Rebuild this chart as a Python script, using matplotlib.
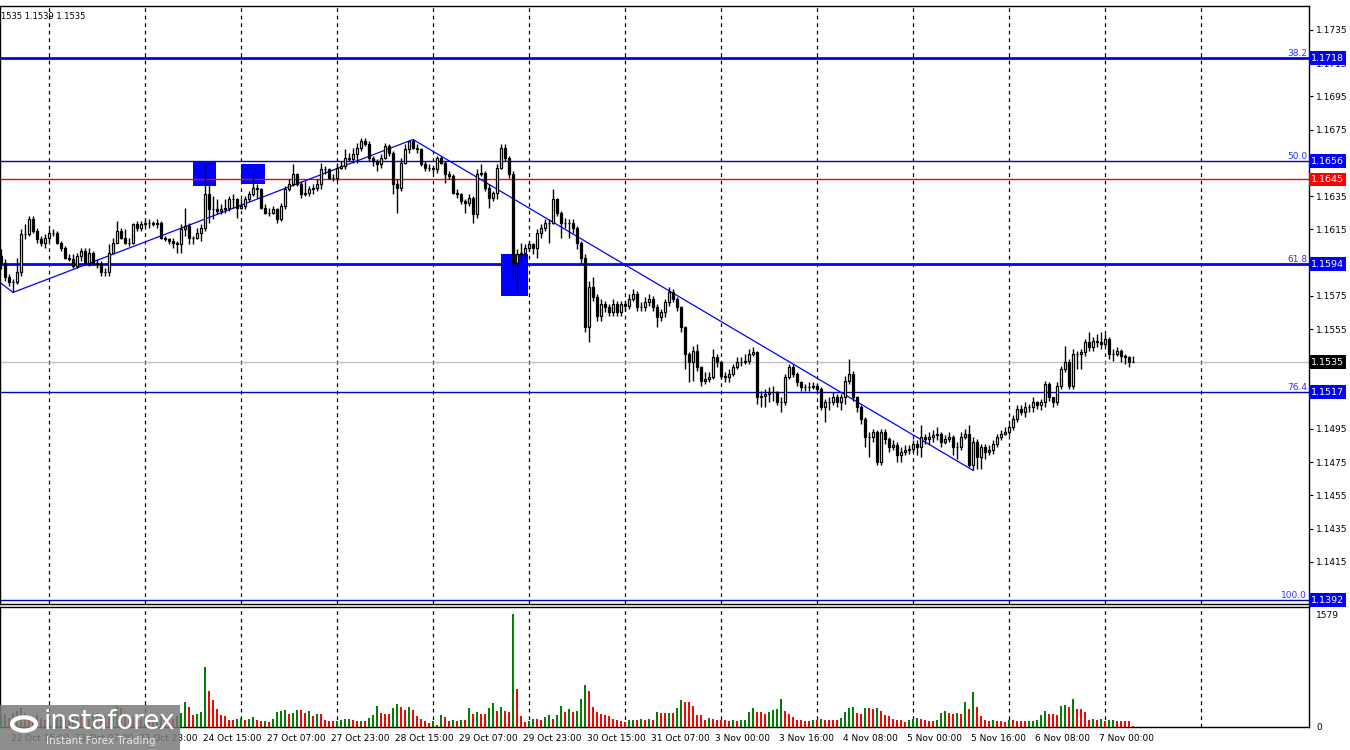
import numpy as np
import matplotlib
matplotlib.use('Agg')
import matplotlib.pyplot as plt
import matplotlib.transforms as mtransforms
from matplotlib.patches import Rectangle, Circle

# EURUSD H1 candles (open of each bar = previous close)
first_open = 1.1599
closes = [
    1.1595, 1.1586, 1.1583, 1.1583, 1.1589, 1.1612, 1.1612, 1.1621, 1.1614, 1.1609,
    1.1607, 1.1610, 1.1613, 1.1613, 1.1607, 1.1604, 1.1598, 1.1597, 1.1593, 1.1599,
    1.1602, 1.1595, 1.1601, 1.1595, 1.1594, 1.1589, 1.1589, 1.1601, 1.1607, 1.1614,
    1.1610, 1.1607, 1.1607, 1.1618, 1.1616, 1.1618, 1.1619, 1.1619, 1.1618, 1.1619,
    1.1610, 1.1609, 1.1608, 1.1607, 1.1606, 1.1615, 1.1617, 1.1610, 1.1610, 1.1613,
    1.1616, 1.1636, 1.1627, 1.1627, 1.1626, 1.1627, 1.1628, 1.1633, 1.1633, 1.1628,
    1.1629, 1.1633, 1.1636, 1.1640, 1.1639, 1.1628, 1.1625, 1.1625, 1.1627, 1.1621,
    1.1629, 1.1639, 1.1642, 1.1648, 1.1642, 1.1636, 1.1637, 1.1639, 1.1640, 1.1642,
    1.1651, 1.1651, 1.1646, 1.1646, 1.1652, 1.1653, 1.1658, 1.1657, 1.1660, 1.1664,
    1.1668, 1.1666, 1.1658, 1.1656, 1.1654, 1.1658, 1.1665, 1.1661, 1.1642, 1.1640,
    1.1655, 1.1663, 1.1668, 1.1664, 1.1663, 1.1654, 1.1652, 1.1652, 1.1651, 1.1658,
    1.1655, 1.1648, 1.1647, 1.1637, 1.1636, 1.1632, 1.1631, 1.1634, 1.1624, 1.1648,
    1.1649, 1.1640, 1.1634, 1.1637, 1.1652, 1.1664, 1.1658, 1.1648, 1.1595, 1.1600,
    1.1601, 1.1604, 1.1606, 1.1604, 1.1613, 1.1616, 1.1619, 1.1619, 1.1633, 1.1625,
    1.1619, 1.1619, 1.1619, 1.1616, 1.1607, 1.1598, 1.1556, 1.1580, 1.1574, 1.1563,
    1.1570, 1.1568, 1.1565, 1.1570, 1.1565, 1.1570, 1.1569, 1.1573, 1.1576, 1.1568,
    1.1568, 1.1571, 1.1573, 1.1568, 1.1562, 1.1565, 1.1571, 1.1577, 1.1573, 1.1568,
    1.1556, 1.1540, 1.1535, 1.1542, 1.1532, 1.1524, 1.1525, 1.1526, 1.1538, 1.1535,
    1.1527, 1.1526, 1.1528, 1.1532, 1.1535, 1.1535, 1.1536, 1.1540, 1.1541, 1.1514,
    1.1515, 1.1516, 1.1517, 1.1517, 1.1511, 1.1511, 1.1526, 1.1532, 1.1528, 1.1523,
    1.1520, 1.1520, 1.1520, 1.1521, 1.1519, 1.1508, 1.1511, 1.1511, 1.1514, 1.1511,
    1.1514, 1.1524, 1.1528, 1.1514, 1.1508, 1.1501, 1.1490, 1.1490, 1.1493, 1.1475,
    1.1493, 1.1489, 1.1484, 1.1485, 1.1479, 1.1481, 1.1482, 1.1483, 1.1486, 1.1484,
    1.1490, 1.1489, 1.1490, 1.1491, 1.1492, 1.1487, 1.1489, 1.1490, 1.1484, 1.1484,
    1.1490, 1.1492, 1.1473, 1.1487, 1.1478, 1.1484, 1.1481, 1.1482, 1.1486, 1.1490,
    1.1492, 1.1493, 1.1496, 1.1501, 1.1507, 1.1505, 1.1508, 1.1508, 1.1511, 1.1509,
    1.1511, 1.1522, 1.1514, 1.1511, 1.1521, 1.1531, 1.1535, 1.1521, 1.1540, 1.1540,
    1.1541, 1.1547, 1.1544, 1.1548, 1.1547, 1.1546, 1.1549, 1.1540, 1.1540, 1.1542,
    1.1539, 1.1538, 1.1535, 1.1535,
]
highs = [
    1.1603, 1.1597, 1.1588, 1.1585, 1.1598, 1.1615, 1.1618, 1.1623, 1.1623, 1.1616,
    1.1611, 1.1612, 1.1615, 1.1615, 1.1614, 1.1608, 1.1605, 1.1600, 1.1600, 1.1601,
    1.1604, 1.1604, 1.1604, 1.1602, 1.1597, 1.1596, 1.1592, 1.1606, 1.1610, 1.1620,
    1.1616, 1.1615, 1.1610, 1.1619, 1.1620, 1.1620, 1.1621, 1.1621, 1.1620, 1.1621,
    1.1620, 1.1611, 1.1610, 1.1610, 1.1608, 1.1618, 1.1628, 1.1619, 1.1611, 1.1616,
    1.1618, 1.1654, 1.1643, 1.1635, 1.1633, 1.1630, 1.1633, 1.1635, 1.1636, 1.1634,
    1.1633, 1.1635, 1.1638, 1.1648, 1.1642, 1.1640, 1.1630, 1.1628, 1.1629, 1.1628,
    1.1631, 1.1641, 1.1645, 1.1654, 1.1649, 1.1644, 1.1644, 1.1641, 1.1642, 1.1645,
    1.1655, 1.1653, 1.1652, 1.1648, 1.1655, 1.1656, 1.1663, 1.1661, 1.1664, 1.1667,
    1.1670, 1.1670, 1.1668, 1.1659, 1.1657, 1.1660, 1.1667, 1.1666, 1.1662, 1.1645,
    1.1658, 1.1666, 1.1668, 1.1669, 1.1666, 1.1664, 1.1656, 1.1654, 1.1653, 1.1659,
    1.1659, 1.1656, 1.1650, 1.1648, 1.1639, 1.1637, 1.1633, 1.1636, 1.1635, 1.1651,
    1.1654, 1.1650, 1.1642, 1.1638, 1.1654, 1.1666, 1.1666, 1.1659, 1.1650, 1.1603,
    1.1607, 1.1606, 1.1608, 1.1607, 1.1615, 1.1618, 1.1621, 1.1621, 1.1639, 1.1634,
    1.1626, 1.1622, 1.1621, 1.1621, 1.1617, 1.1608, 1.1600, 1.1584, 1.1586, 1.1576,
    1.1573, 1.1572, 1.1570, 1.1573, 1.1572, 1.1572, 1.1572, 1.1576, 1.1579, 1.1578,
    1.1571, 1.1574, 1.1576, 1.1575, 1.1570, 1.1567, 1.1573, 1.1580, 1.1579, 1.1574,
    1.1569, 1.1557, 1.1541, 1.1545, 1.1546, 1.1533, 1.1529, 1.1529, 1.1543, 1.1540,
    1.1536, 1.1529, 1.1531, 1.1534, 1.1538, 1.1538, 1.1540, 1.1543, 1.1544, 1.1542,
    1.1518, 1.1519, 1.1520, 1.1521, 1.1518, 1.1514, 1.1528, 1.1534, 1.1534, 1.1529,
    1.1524, 1.1522, 1.1523, 1.1523, 1.1522, 1.1520, 1.1513, 1.1514, 1.1517, 1.1516,
    1.1516, 1.1527, 1.1537, 1.1530, 1.1515, 1.1509, 1.1502, 1.1493, 1.1495, 1.1494,
    1.1495, 1.1495, 1.1490, 1.1488, 1.1487, 1.1484, 1.1485, 1.1485, 1.1488, 1.1488,
    1.1497, 1.1492, 1.1493, 1.1494, 1.1496, 1.1493, 1.1491, 1.1493, 1.1491, 1.1487,
    1.1493, 1.1495, 1.1497, 1.1490, 1.1489, 1.1486, 1.1486, 1.1485, 1.1488, 1.1492,
    1.1494, 1.1496, 1.1498, 1.1503, 1.1509, 1.1509, 1.1511, 1.1510, 1.1514, 1.1512,
    1.1513, 1.1524, 1.1523, 1.1514, 1.1523, 1.1533, 1.1545, 1.1537, 1.1543, 1.1542,
    1.1543, 1.1549, 1.1553, 1.1550, 1.1552, 1.1553, 1.1552, 1.1550, 1.1543, 1.1544,
    1.1543, 1.1540, 1.1539, 1.1539,
]
lows = [
    1.1591, 1.1584, 1.1581, 1.1577, 1.1582, 1.1587, 1.1609, 1.1611, 1.1613, 1.1607,
    1.1605, 1.1604, 1.1608, 1.1611, 1.1606, 1.1602, 1.1597, 1.1596, 1.1592, 1.1592,
    1.1596, 1.1594, 1.1593, 1.1594, 1.1592, 1.1587, 1.1587, 1.1587, 1.1601, 1.1607,
    1.1609, 1.1606, 1.1605, 1.1606, 1.1614, 1.1614, 1.1617, 1.1616, 1.1617, 1.1616,
    1.1609, 1.1608, 1.1606, 1.1604, 1.1601, 1.1601, 1.1611, 1.1606, 1.1606, 1.1609,
    1.1608, 1.1614, 1.1619, 1.1621, 1.1624, 1.1624, 1.1625, 1.1626, 1.1628, 1.1622,
    1.1627, 1.1627, 1.1632, 1.1635, 1.1634, 1.1627, 1.1624, 1.1623, 1.1624, 1.1619,
    1.1620, 1.1627, 1.1638, 1.1641, 1.1641, 1.1634, 1.1635, 1.1635, 1.1636, 1.1638,
    1.1639, 1.1648, 1.1645, 1.1644, 1.1644, 1.1651, 1.1651, 1.1656, 1.1655, 1.1655,
    1.1662, 1.1665, 1.1656, 1.1653, 1.1650, 1.1652, 1.1657, 1.1659, 1.1636, 1.1625,
    1.1638, 1.1654, 1.1661, 1.1663, 1.1661, 1.1653, 1.1650, 1.1650, 1.1649, 1.1649,
    1.1654, 1.1643, 1.1645, 1.1636, 1.1634, 1.1630, 1.1625, 1.1629, 1.1619, 1.1622,
    1.1647, 1.1638, 1.1628, 1.1632, 1.1633, 1.1651, 1.1656, 1.1646, 1.1585, 1.1577,
    1.1596, 1.1598, 1.1602, 1.1600, 1.1598, 1.1610, 1.1614, 1.1607, 1.1618, 1.1623,
    1.1610, 1.1616, 1.1610, 1.1613, 1.1603, 1.1595, 1.1553, 1.1547, 1.1572, 1.1560,
    1.1560, 1.1565, 1.1563, 1.1563, 1.1563, 1.1563, 1.1566, 1.1567, 1.1572, 1.1566,
    1.1566, 1.1566, 1.1569, 1.1566, 1.1556, 1.1560, 1.1562, 1.1569, 1.1571, 1.1566,
    1.1553, 1.1531, 1.1523, 1.1524, 1.1530, 1.1521, 1.1522, 1.1523, 1.1525, 1.1532,
    1.1525, 1.1523, 1.1523, 1.1527, 1.1531, 1.1533, 1.1534, 1.1534, 1.1539, 1.1510,
    1.1508, 1.1508, 1.1511, 1.1512, 1.1509, 1.1505, 1.1509, 1.1525, 1.1526, 1.1521,
    1.1518, 1.1518, 1.1518, 1.1519, 1.1517, 1.1506, 1.1499, 1.1506, 1.1509, 1.1508,
    1.1506, 1.1510, 1.1522, 1.1512, 1.1505, 1.1498, 1.1484, 1.1478, 1.1487, 1.1473,
    1.1473, 1.1486, 1.1481, 1.1482, 1.1475, 1.1475, 1.1479, 1.1480, 1.1481, 1.1479,
    1.1478, 1.1486, 1.1486, 1.1487, 1.1488, 1.1484, 1.1486, 1.1487, 1.1479, 1.1477,
    1.1482, 1.1489, 1.1472, 1.1470, 1.1471, 1.1471, 1.1477, 1.1479, 1.1480, 1.1484,
    1.1488, 1.1491, 1.1491, 1.1494, 1.1499, 1.1503, 1.1502, 1.1505, 1.1505, 1.1507,
    1.1506, 1.1508, 1.1512, 1.1508, 1.1509, 1.1519, 1.1529, 1.1519, 1.1519, 1.1531,
    1.1531, 1.1539, 1.1542, 1.1542, 1.1544, 1.1543, 1.1545, 1.1537, 1.1536, 1.1539,
    1.1535, 1.1534, 1.1532, 1.1535,
]
volumes = [
    150, 180, 120, 200, 230, 260, 190, 160, 140, 170,
    120, 100, 90, 110, 130, 150, 120, 100, 140, 180,
    160, 130, 110, 150, 200, 170, 160, 140, 220, 300,
    260, 200, 160, 140, 120, 110, 130, 100, 90, 120,
    150, 140, 120, 110, 160,
    198, 345, 285, 161, 175, 216, 833, 501, 377, 253,
    161, 147, 92, 92, 106, 129, 101, 106, 133, 92,
    78, 87, 74, 106, 216, 230, 239, 184, 198, 244,
    239, 193, 230, 152, 184, 184, 92, 78, 78, 87,
    101, 106, 115, 101, 78, 87, 87, 124, 170, 299,
    198, 184, 184, 262, 322, 285, 239, 285, 244, 152,
    106, 78, 60, 87, 23, 161, 133, 87, 92, 87,
    101, 101, 262, 179, 207, 184, 184, 267, 336, 225,
    285, 230, 210, 1579,
    529, 147, 69, 78, 115, 115, 101, 138, 170, 115,
    161, 299, 216, 253, 207, 230, 391, 584, 506, 285,
    207, 179, 161, 147, 106, 92, 78, 69, 92, 101,
    101, 106, 92, 106, 101, 207, 198, 193, 198, 198,
    262, 377, 345, 345, 299,
    170, 170, 92, 129, 106, 101, 92, 92, 87, 101,
    87, 92, 101, 207, 267, 216, 216, 175, 207, 239,
    253, 391, 221, 184, 138, 101, 92, 87, 78, 101,
    101, 115, 101, 92, 92, 92, 129, 207, 267, 276,
    193, 184, 262, 262, 253, 262, 230, 170, 147, 106,
    92, 92, 69, 92, 115, 124, 106, 101, 78, 78,
    92, 198, 230, 198, 175, 193, 184, 354, 253, 492,
    285, 147, 92, 87, 92, 78, 78, 69, 101, 92,
    87, 83, 78, 83, 87, 92, 161, 221, 184, 175,
    161, 299, 308, 285, 391, 253, 253, 207, 101, 115,
    101, 115, 78, 92, 101, 87, 87, 87, 78, 9,
]

time_label_bars = [3, 19, 35, 51, 67, 83, 99, 115, 131, 147, 163, 179, 195, 211, 227, 243, 259, 275]
time_labels = ['22 Oct 15:00', '23 Oct 07:00', '23 Oct 23:00', '24 Oct 15:00', '27 Oct 07:00',
               '27 Oct 23:00', '28 Oct 15:00', '29 Oct 07:00', '29 Oct 23:00', '30 Oct 15:00',
               '31 Oct 07:00', '3 Nov 00:00', '3 Nov 16:00', '4 Nov 08:00', '5 Nov 00:00',
               '5 Nov 16:00', '6 Nov 08:00', '7 Nov 00:00']

# price scale labels (the ones hidden under the level boxes are left out)
price_ticks = [1.1415, 1.1435, 1.1455, 1.1475, 1.1495, 1.1515, 1.1555, 1.1575, 1.1615,
               1.1635, 1.1675, 1.1695, 1.1715, 1.1735]

fib_names = ['38.2', '50.0', '61.8', '76.4', '100.0']
fib_prices = [1.1718, 1.1656, 1.1594, 1.1517, 1.1392]
resistance = 1.1645
bid = 1.1535
vol_max = 1579

# zigzag trend line (bar, price)
zz_bars = [-0.25, 3, 103, 243]
zz_prices = [1.1583, 1.1577, 1.1669, 1.1470]

# blue zones
box_x0 = [48, 60, 125]
box_x1 = [53.75, 66, 131.75]
box_lo = [1.1641, 1.1642, 1.1575]
box_hi = [1.1656, 1.1654, 1.1600]

W, H = 1350, 750
fig = plt.figure(figsize=(W / 100, H / 100), dpi=100)
ax = fig.add_axes([0, 1 - 604 / H, 1309 / W, 598 / H])
axv = fig.add_axes([0, 1 - 727 / H, 1309 / W, 120 / H])

n = len(closes)
x = np.arange(n)
c = np.array(closes)
o = np.r_[first_open, c[:-1]]
h = np.array(highs)
l = np.array(lows)

for a in (ax, axv):
    a.set_xlim(-0.25, 327)
    for g in range(12, 301, 24):
        a.axvline(g, color='black', ls=(0, (3, 3)), lw=0.9, zorder=1)
    for s in a.spines.values():
        s.set_color('black')
        s.set_linewidth(1)
    a.set_xticks([])

ax.set_ylim(1.13896, 1.17493)

# zones and lines
for x0, x1, lo, hi in zip(box_x0, box_x1, box_lo, box_hi):
    ax.add_patch(Rectangle((x0, lo), x1 - x0, hi - lo, fc='#0000ff', ec='none', zorder=1.5))

fib_lw = [2, 1, 2, 1, 1]
for name, p, lw in zip(fib_names, fib_prices, fib_lw):
    ax.axhline(p, color='#0000ff' if lw == 2 else '#0000c8', lw=lw, zorder=2)
ax.axhline(resistance, color='#ff0000', lw=1, zorder=2)
ax.axhline(bid, color='#c0c0c0', lw=1, zorder=2)
ax.plot(zz_bars, zz_prices, color='#0000ff', lw=0.9, zorder=2.5)

# candles
ax.vlines(x, l, h, color='black', lw=1, zorder=3)
bull = c > o
bottom = np.minimum(o, c)
height = np.abs(c - o)
ax.bar(x[bull], height[bull], bottom=bottom[bull], width=0.55, facecolor='white',
       edgecolor='black', linewidth=0.9, zorder=4)
ax.bar(x[~bull], height[~bull], bottom=bottom[~bull], width=0.55, facecolor='black',
       edgecolor='black', linewidth=0.9, zorder=4)

# price scale
ax.yaxis.tick_right()
ax.set_yticks(price_ticks)
ax.set_yticklabels([f'{t:.4f}' for t in price_ticks])
ax.tick_params(axis='y', labelsize=6.5, length=3, width=0.8, pad=2, colors='black')

trans = mtransforms.blended_transform_factory(ax.transAxes, ax.transData)
for name, p in zip(fib_names, fib_prices):
    ax.text(0.9985, p + 0.00003, name, transform=trans, ha='right', va='bottom',
            fontsize=6.5, color='#3030ff', zorder=6)
    ax.text(1.0015, p, f'{p:.4f}', transform=trans, ha='left', va='center', fontsize=6.8,
            color='white', clip_on=False, zorder=10,
            bbox=dict(boxstyle='square,pad=0.25', fc='#0000ff', ec='none'))
ax.text(1.0015, resistance, f'{resistance:.4f}', transform=trans, ha='left', va='center',
        fontsize=6.8, color='white', clip_on=False, zorder=10,
        bbox=dict(boxstyle='square,pad=0.25', fc='#ff0000', ec='none'))
ax.text(1.0015, bid, f'{bid:.4f}', transform=trans, ha='left', va='center',
        fontsize=6.8, color='white', clip_on=False, zorder=10,
        bbox=dict(boxstyle='square,pad=0.25', fc='black', ec='none'))
ax.text(0.001, 0.99, '1535 1.1539 1.1535', transform=ax.transAxes, ha='left', va='top',
        fontsize=6, color='black')

# volumes
v = np.array(volumes)
grow = np.r_[True, v[1:] > v[:-1]]
vcol = np.where(grow, '#008000', '#ff0000')
axv.bar(x, v, width=0.72, color=vcol, zorder=3)
axv.set_ylim(0, 1677)
axv.yaxis.tick_right()
axv.set_yticks([0, vol_max])
axv.set_yticklabels(['0', str(vol_max)])
axv.tick_params(axis='y', labelsize=6.5, length=0, pad=5, colors='black')

tl = mtransforms.blended_transform_factory(axv.transData, axv.transAxes)
for b, s in zip(time_label_bars, time_labels):
    axv.text(b - 0.5, -0.06, s, transform=tl, ha='left', va='top', fontsize=6.5,
             color='black', clip_on=False)

# watermark
fig.patches.append(Rectangle((0, 0), 180 / W, 45 / H, transform=fig.transFigure,
                             fc='#7a7a7a', ec='none', alpha=0.85, zorder=20))
fig.patches.append(Circle((24 / W, 1 - 724 / H), 12 / W, transform=fig.transFigure,
                          fc='none', ec='white', lw=3, zorder=21))
fig.text(44 / W, 1 - 722 / H, 'instaforex', color='white', fontsize=19, va='center',
         ha='left', zorder=22)
fig.text(46 / W, 1 - 741 / H, 'Instant Forex Trading', color='#e8e8e8', fontsize=7.5,
         va='center', ha='left', zorder=22)

fig.savefig('out.png', dpi=100)
